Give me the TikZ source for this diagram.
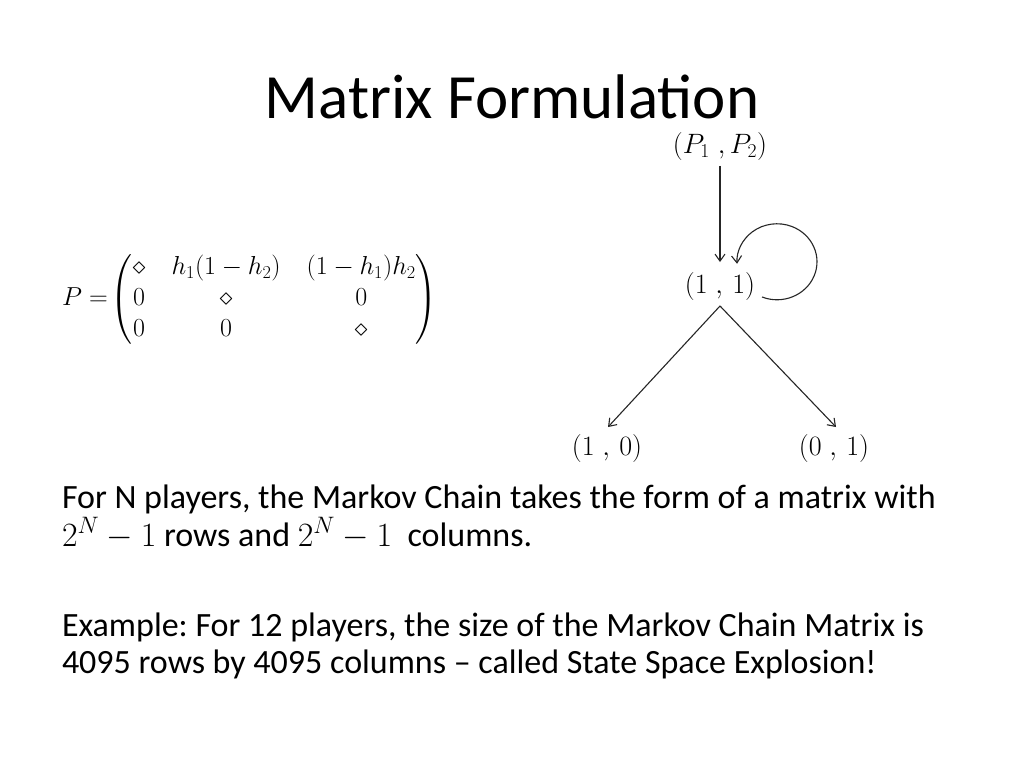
\documentclass[tikz,border=0pt]{standalone}
\usepackage{fix-cm}
\usepackage{amsmath}
\usepackage{fontspec}
\setmainfont{Carlito}
\usetikzlibrary{arrows.meta}
\begin{document}
\frenchspacing
\begin{tikzpicture}[x=1pt,y=1pt,
  every node/.style={inner sep=0pt,outer sep=0pt},
  body/.style={anchor=base west,font=\fontsize{34}{40}\selectfont},
  state/.style={font=\fontsize{28}{34}\selectfont},
  edge/.style={draw=black!85,line width=1.1pt,-{Straight Barb[length=7pt,width=10pt]}}]
\useasboundingbox (0,0) rectangle (1024,-768);
\fill[white] (0,0) rectangle (1024,-768);
% title
\node[anchor=base,font=\fontsize{63}{70}\selectfont] (title) at (512,-118) {Matrix Formulation};
% matrix
\node[anchor=west,font=\fontsize{26}{31}\selectfont] (mat) at (62,-299)
 {$\setlength{\arraycolsep}{13pt}P=\!\begin{pmatrix}\diamond & h_1(1-h_2) & (1-h_1)h_2\\ 0 & \diamond & 0\\ 0 & 0 & \diamond\end{pmatrix}$};
% states
\node[state] (p12) at (720,-146) {$(P_1\;,P_2)$};
\node[state] (s11) at (720,-286) {$(1\;,\,1)$};
\node[state] (s10) at (607,-448) {$(1\;,\,0)$};
\node[state] (s01) at (834,-448) {$(0\;,\,1)$};
\draw[edge] ([yshift=-6pt]p12.south) -- ([yshift=10pt]s11.north);
\draw[edge] ([yshift=-6pt]s11.south) -- ([xshift=1pt,yshift=7pt]s10.north);
\draw[edge] ([yshift=-6pt]s11.south) -- ([xshift=2pt,yshift=7pt]s01.north);
\draw[edge] ([xshift=42pt,yshift=-11pt]s11.center) arc[start angle=-112,end angle=183,x radius=40,y radius=38];
% body text
\node[body] (l1) at (62,-508) {For N players, the Markov Chain takes the form of a matrix with};
\node[body] (l2) at (62,-546) {$2^N-1$ rows and $2^N-1$\ \ columns.};
\node[body] (l3) at (62,-636) {Example: For 12 players, the size of the Markov Chain Matrix is};
\node[body] (l4) at (62,-673) {4095 rows by 4095 columns -- called State Space Explosion!};
\end{tikzpicture}
\end{document}
